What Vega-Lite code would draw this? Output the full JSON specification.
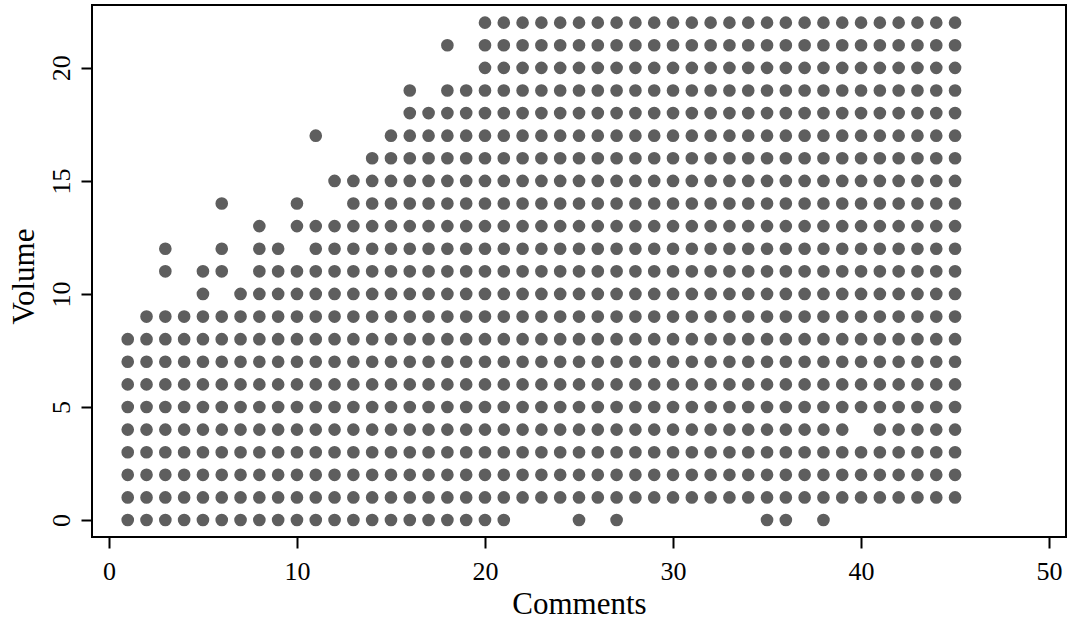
{
"$schema": "https://vega.github.io/schema/vega-lite/v6.json",
"width": 974, "height": 532,
"autosize": {"type": "none"},
"padding": {"left": 92, "top": 5, "right": 4, "bottom": 86},
"background": "white",
"config": {"view": {"stroke": "black", "strokeWidth": 2}, "font": "Liberation Serif"},
"data": {"values": [
{"x":1,"y":0},{"x":2,"y":0},{"x":3,"y":0},{"x":4,"y":0},{"x":5,"y":0},{"x":6,"y":0},{"x":7,"y":0},{"x":8,"y":0},{"x":9,"y":0},{"x":10,"y":0},{"x":11,"y":0},{"x":12,"y":0},{"x":13,"y":0},{"x":14,"y":0},{"x":15,"y":0},{"x":16,"y":0},{"x":17,"y":0},{"x":18,"y":0},{"x":19,"y":0},{"x":20,"y":0},{"x":21,"y":0},{"x":25,"y":0},{"x":27,"y":0},{"x":35,"y":0},{"x":36,"y":0},{"x":38,"y":0},
{"x":1,"y":1},{"x":2,"y":1},{"x":3,"y":1},{"x":4,"y":1},{"x":5,"y":1},{"x":6,"y":1},{"x":7,"y":1},{"x":8,"y":1},{"x":9,"y":1},{"x":10,"y":1},{"x":11,"y":1},{"x":12,"y":1},{"x":13,"y":1},{"x":14,"y":1},{"x":15,"y":1},{"x":16,"y":1},{"x":17,"y":1},{"x":18,"y":1},{"x":19,"y":1},{"x":20,"y":1},{"x":21,"y":1},{"x":22,"y":1},{"x":23,"y":1},{"x":24,"y":1},{"x":25,"y":1},{"x":26,"y":1},{"x":27,"y":1},{"x":28,"y":1},{"x":29,"y":1},{"x":30,"y":1},{"x":31,"y":1},{"x":32,"y":1},{"x":33,"y":1},{"x":34,"y":1},{"x":35,"y":1},{"x":36,"y":1},{"x":37,"y":1},{"x":38,"y":1},{"x":39,"y":1},{"x":40,"y":1},{"x":41,"y":1},{"x":42,"y":1},{"x":43,"y":1},{"x":44,"y":1},{"x":45,"y":1},
{"x":1,"y":2},{"x":2,"y":2},{"x":3,"y":2},{"x":4,"y":2},{"x":5,"y":2},{"x":6,"y":2},{"x":7,"y":2},{"x":8,"y":2},{"x":9,"y":2},{"x":10,"y":2},{"x":11,"y":2},{"x":12,"y":2},{"x":13,"y":2},{"x":14,"y":2},{"x":15,"y":2},{"x":16,"y":2},{"x":17,"y":2},{"x":18,"y":2},{"x":19,"y":2},{"x":20,"y":2},{"x":21,"y":2},{"x":22,"y":2},{"x":23,"y":2},{"x":24,"y":2},{"x":25,"y":2},{"x":26,"y":2},{"x":27,"y":2},{"x":28,"y":2},{"x":29,"y":2},{"x":30,"y":2},{"x":31,"y":2},{"x":32,"y":2},{"x":33,"y":2},{"x":34,"y":2},{"x":35,"y":2},{"x":36,"y":2},{"x":37,"y":2},{"x":38,"y":2},{"x":39,"y":2},{"x":40,"y":2},{"x":41,"y":2},{"x":42,"y":2},{"x":43,"y":2},{"x":44,"y":2},{"x":45,"y":2},
{"x":1,"y":3},{"x":2,"y":3},{"x":3,"y":3},{"x":4,"y":3},{"x":5,"y":3},{"x":6,"y":3},{"x":7,"y":3},{"x":8,"y":3},{"x":9,"y":3},{"x":10,"y":3},{"x":11,"y":3},{"x":12,"y":3},{"x":13,"y":3},{"x":14,"y":3},{"x":15,"y":3},{"x":16,"y":3},{"x":17,"y":3},{"x":18,"y":3},{"x":19,"y":3},{"x":20,"y":3},{"x":21,"y":3},{"x":22,"y":3},{"x":23,"y":3},{"x":24,"y":3},{"x":25,"y":3},{"x":26,"y":3},{"x":27,"y":3},{"x":28,"y":3},{"x":29,"y":3},{"x":30,"y":3},{"x":31,"y":3},{"x":32,"y":3},{"x":33,"y":3},{"x":34,"y":3},{"x":35,"y":3},{"x":36,"y":3},{"x":37,"y":3},{"x":38,"y":3},{"x":39,"y":3},{"x":40,"y":3},{"x":41,"y":3},{"x":42,"y":3},{"x":43,"y":3},{"x":44,"y":3},{"x":45,"y":3},
{"x":1,"y":4},{"x":2,"y":4},{"x":3,"y":4},{"x":4,"y":4},{"x":5,"y":4},{"x":6,"y":4},{"x":7,"y":4},{"x":8,"y":4},{"x":9,"y":4},{"x":10,"y":4},{"x":11,"y":4},{"x":12,"y":4},{"x":13,"y":4},{"x":14,"y":4},{"x":15,"y":4},{"x":16,"y":4},{"x":17,"y":4},{"x":18,"y":4},{"x":19,"y":4},{"x":20,"y":4},{"x":21,"y":4},{"x":22,"y":4},{"x":23,"y":4},{"x":24,"y":4},{"x":25,"y":4},{"x":26,"y":4},{"x":27,"y":4},{"x":28,"y":4},{"x":29,"y":4},{"x":30,"y":4},{"x":31,"y":4},{"x":32,"y":4},{"x":33,"y":4},{"x":34,"y":4},{"x":35,"y":4},{"x":36,"y":4},{"x":37,"y":4},{"x":38,"y":4},{"x":39,"y":4},{"x":41,"y":4},{"x":42,"y":4},{"x":43,"y":4},{"x":44,"y":4},{"x":45,"y":4},
{"x":1,"y":5},{"x":2,"y":5},{"x":3,"y":5},{"x":4,"y":5},{"x":5,"y":5},{"x":6,"y":5},{"x":7,"y":5},{"x":8,"y":5},{"x":9,"y":5},{"x":10,"y":5},{"x":11,"y":5},{"x":12,"y":5},{"x":13,"y":5},{"x":14,"y":5},{"x":15,"y":5},{"x":16,"y":5},{"x":17,"y":5},{"x":18,"y":5},{"x":19,"y":5},{"x":20,"y":5},{"x":21,"y":5},{"x":22,"y":5},{"x":23,"y":5},{"x":24,"y":5},{"x":25,"y":5},{"x":26,"y":5},{"x":27,"y":5},{"x":28,"y":5},{"x":29,"y":5},{"x":30,"y":5},{"x":31,"y":5},{"x":32,"y":5},{"x":33,"y":5},{"x":34,"y":5},{"x":35,"y":5},{"x":36,"y":5},{"x":37,"y":5},{"x":38,"y":5},{"x":39,"y":5},{"x":40,"y":5},{"x":41,"y":5},{"x":42,"y":5},{"x":43,"y":5},{"x":44,"y":5},{"x":45,"y":5},
{"x":1,"y":6},{"x":2,"y":6},{"x":3,"y":6},{"x":4,"y":6},{"x":5,"y":6},{"x":6,"y":6},{"x":7,"y":6},{"x":8,"y":6},{"x":9,"y":6},{"x":10,"y":6},{"x":11,"y":6},{"x":12,"y":6},{"x":13,"y":6},{"x":14,"y":6},{"x":15,"y":6},{"x":16,"y":6},{"x":17,"y":6},{"x":18,"y":6},{"x":19,"y":6},{"x":20,"y":6},{"x":21,"y":6},{"x":22,"y":6},{"x":23,"y":6},{"x":24,"y":6},{"x":25,"y":6},{"x":26,"y":6},{"x":27,"y":6},{"x":28,"y":6},{"x":29,"y":6},{"x":30,"y":6},{"x":31,"y":6},{"x":32,"y":6},{"x":33,"y":6},{"x":34,"y":6},{"x":35,"y":6},{"x":36,"y":6},{"x":37,"y":6},{"x":38,"y":6},{"x":39,"y":6},{"x":40,"y":6},{"x":41,"y":6},{"x":42,"y":6},{"x":43,"y":6},{"x":44,"y":6},{"x":45,"y":6},
{"x":1,"y":7},{"x":2,"y":7},{"x":3,"y":7},{"x":4,"y":7},{"x":5,"y":7},{"x":6,"y":7},{"x":7,"y":7},{"x":8,"y":7},{"x":9,"y":7},{"x":10,"y":7},{"x":11,"y":7},{"x":12,"y":7},{"x":13,"y":7},{"x":14,"y":7},{"x":15,"y":7},{"x":16,"y":7},{"x":17,"y":7},{"x":18,"y":7},{"x":19,"y":7},{"x":20,"y":7},{"x":21,"y":7},{"x":22,"y":7},{"x":23,"y":7},{"x":24,"y":7},{"x":25,"y":7},{"x":26,"y":7},{"x":27,"y":7},{"x":28,"y":7},{"x":29,"y":7},{"x":30,"y":7},{"x":31,"y":7},{"x":32,"y":7},{"x":33,"y":7},{"x":34,"y":7},{"x":35,"y":7},{"x":36,"y":7},{"x":37,"y":7},{"x":38,"y":7},{"x":39,"y":7},{"x":40,"y":7},{"x":41,"y":7},{"x":42,"y":7},{"x":43,"y":7},{"x":44,"y":7},{"x":45,"y":7},
{"x":1,"y":8},{"x":2,"y":8},{"x":3,"y":8},{"x":4,"y":8},{"x":5,"y":8},{"x":6,"y":8},{"x":7,"y":8},{"x":8,"y":8},{"x":9,"y":8},{"x":10,"y":8},{"x":11,"y":8},{"x":12,"y":8},{"x":13,"y":8},{"x":14,"y":8},{"x":15,"y":8},{"x":16,"y":8},{"x":17,"y":8},{"x":18,"y":8},{"x":19,"y":8},{"x":20,"y":8},{"x":21,"y":8},{"x":22,"y":8},{"x":23,"y":8},{"x":24,"y":8},{"x":25,"y":8},{"x":26,"y":8},{"x":27,"y":8},{"x":28,"y":8},{"x":29,"y":8},{"x":30,"y":8},{"x":31,"y":8},{"x":32,"y":8},{"x":33,"y":8},{"x":34,"y":8},{"x":35,"y":8},{"x":36,"y":8},{"x":37,"y":8},{"x":38,"y":8},{"x":39,"y":8},{"x":40,"y":8},{"x":41,"y":8},{"x":42,"y":8},{"x":43,"y":8},{"x":44,"y":8},{"x":45,"y":8},
{"x":2,"y":9},{"x":3,"y":9},{"x":4,"y":9},{"x":5,"y":9},{"x":6,"y":9},{"x":7,"y":9},{"x":8,"y":9},{"x":9,"y":9},{"x":10,"y":9},{"x":11,"y":9},{"x":12,"y":9},{"x":13,"y":9},{"x":14,"y":9},{"x":15,"y":9},{"x":16,"y":9},{"x":17,"y":9},{"x":18,"y":9},{"x":19,"y":9},{"x":20,"y":9},{"x":21,"y":9},{"x":22,"y":9},{"x":23,"y":9},{"x":24,"y":9},{"x":25,"y":9},{"x":26,"y":9},{"x":27,"y":9},{"x":28,"y":9},{"x":29,"y":9},{"x":30,"y":9},{"x":31,"y":9},{"x":32,"y":9},{"x":33,"y":9},{"x":34,"y":9},{"x":35,"y":9},{"x":36,"y":9},{"x":37,"y":9},{"x":38,"y":9},{"x":39,"y":9},{"x":40,"y":9},{"x":41,"y":9},{"x":42,"y":9},{"x":43,"y":9},{"x":44,"y":9},{"x":45,"y":9},
{"x":5,"y":10},{"x":7,"y":10},{"x":8,"y":10},{"x":9,"y":10},{"x":10,"y":10},{"x":11,"y":10},{"x":12,"y":10},{"x":13,"y":10},{"x":14,"y":10},{"x":15,"y":10},{"x":16,"y":10},{"x":17,"y":10},{"x":18,"y":10},{"x":19,"y":10},{"x":20,"y":10},{"x":21,"y":10},{"x":22,"y":10},{"x":23,"y":10},{"x":24,"y":10},{"x":25,"y":10},{"x":26,"y":10},{"x":27,"y":10},{"x":28,"y":10},{"x":29,"y":10},{"x":30,"y":10},{"x":31,"y":10},{"x":32,"y":10},{"x":33,"y":10},{"x":34,"y":10},{"x":35,"y":10},{"x":36,"y":10},{"x":37,"y":10},{"x":38,"y":10},{"x":39,"y":10},{"x":40,"y":10},{"x":41,"y":10},{"x":42,"y":10},{"x":43,"y":10},{"x":44,"y":10},{"x":45,"y":10},
{"x":3,"y":11},{"x":5,"y":11},{"x":6,"y":11},{"x":8,"y":11},{"x":9,"y":11},{"x":10,"y":11},{"x":11,"y":11},{"x":12,"y":11},{"x":13,"y":11},{"x":14,"y":11},{"x":15,"y":11},{"x":16,"y":11},{"x":17,"y":11},{"x":18,"y":11},{"x":19,"y":11},{"x":20,"y":11},{"x":21,"y":11},{"x":22,"y":11},{"x":23,"y":11},{"x":24,"y":11},{"x":25,"y":11},{"x":26,"y":11},{"x":27,"y":11},{"x":28,"y":11},{"x":29,"y":11},{"x":30,"y":11},{"x":31,"y":11},{"x":32,"y":11},{"x":33,"y":11},{"x":34,"y":11},{"x":35,"y":11},{"x":36,"y":11},{"x":37,"y":11},{"x":38,"y":11},{"x":39,"y":11},{"x":40,"y":11},{"x":41,"y":11},{"x":42,"y":11},{"x":43,"y":11},{"x":44,"y":11},{"x":45,"y":11},
{"x":3,"y":12},{"x":6,"y":12},{"x":8,"y":12},{"x":9,"y":12},{"x":11,"y":12},{"x":12,"y":12},{"x":13,"y":12},{"x":14,"y":12},{"x":15,"y":12},{"x":16,"y":12},{"x":17,"y":12},{"x":18,"y":12},{"x":19,"y":12},{"x":20,"y":12},{"x":21,"y":12},{"x":22,"y":12},{"x":23,"y":12},{"x":24,"y":12},{"x":25,"y":12},{"x":26,"y":12},{"x":27,"y":12},{"x":28,"y":12},{"x":29,"y":12},{"x":30,"y":12},{"x":31,"y":12},{"x":32,"y":12},{"x":33,"y":12},{"x":34,"y":12},{"x":35,"y":12},{"x":36,"y":12},{"x":37,"y":12},{"x":38,"y":12},{"x":39,"y":12},{"x":40,"y":12},{"x":41,"y":12},{"x":42,"y":12},{"x":43,"y":12},{"x":44,"y":12},{"x":45,"y":12},
{"x":8,"y":13},{"x":10,"y":13},{"x":11,"y":13},{"x":12,"y":13},{"x":13,"y":13},{"x":14,"y":13},{"x":15,"y":13},{"x":16,"y":13},{"x":17,"y":13},{"x":18,"y":13},{"x":19,"y":13},{"x":20,"y":13},{"x":21,"y":13},{"x":22,"y":13},{"x":23,"y":13},{"x":24,"y":13},{"x":25,"y":13},{"x":26,"y":13},{"x":27,"y":13},{"x":28,"y":13},{"x":29,"y":13},{"x":30,"y":13},{"x":31,"y":13},{"x":32,"y":13},{"x":33,"y":13},{"x":34,"y":13},{"x":35,"y":13},{"x":36,"y":13},{"x":37,"y":13},{"x":38,"y":13},{"x":39,"y":13},{"x":40,"y":13},{"x":41,"y":13},{"x":42,"y":13},{"x":43,"y":13},{"x":44,"y":13},{"x":45,"y":13},
{"x":6,"y":14},{"x":10,"y":14},{"x":13,"y":14},{"x":14,"y":14},{"x":15,"y":14},{"x":16,"y":14},{"x":17,"y":14},{"x":18,"y":14},{"x":19,"y":14},{"x":20,"y":14},{"x":21,"y":14},{"x":22,"y":14},{"x":23,"y":14},{"x":24,"y":14},{"x":25,"y":14},{"x":26,"y":14},{"x":27,"y":14},{"x":28,"y":14},{"x":29,"y":14},{"x":30,"y":14},{"x":31,"y":14},{"x":32,"y":14},{"x":33,"y":14},{"x":34,"y":14},{"x":35,"y":14},{"x":36,"y":14},{"x":37,"y":14},{"x":38,"y":14},{"x":39,"y":14},{"x":40,"y":14},{"x":41,"y":14},{"x":42,"y":14},{"x":43,"y":14},{"x":44,"y":14},{"x":45,"y":14},
{"x":12,"y":15},{"x":13,"y":15},{"x":14,"y":15},{"x":15,"y":15},{"x":16,"y":15},{"x":17,"y":15},{"x":18,"y":15},{"x":19,"y":15},{"x":20,"y":15},{"x":21,"y":15},{"x":22,"y":15},{"x":23,"y":15},{"x":24,"y":15},{"x":25,"y":15},{"x":26,"y":15},{"x":27,"y":15},{"x":28,"y":15},{"x":29,"y":15},{"x":30,"y":15},{"x":31,"y":15},{"x":32,"y":15},{"x":33,"y":15},{"x":34,"y":15},{"x":35,"y":15},{"x":36,"y":15},{"x":37,"y":15},{"x":38,"y":15},{"x":39,"y":15},{"x":40,"y":15},{"x":41,"y":15},{"x":42,"y":15},{"x":43,"y":15},{"x":44,"y":15},{"x":45,"y":15},
{"x":14,"y":16},{"x":15,"y":16},{"x":16,"y":16},{"x":17,"y":16},{"x":18,"y":16},{"x":19,"y":16},{"x":20,"y":16},{"x":21,"y":16},{"x":22,"y":16},{"x":23,"y":16},{"x":24,"y":16},{"x":25,"y":16},{"x":26,"y":16},{"x":27,"y":16},{"x":28,"y":16},{"x":29,"y":16},{"x":30,"y":16},{"x":31,"y":16},{"x":32,"y":16},{"x":33,"y":16},{"x":34,"y":16},{"x":35,"y":16},{"x":36,"y":16},{"x":37,"y":16},{"x":38,"y":16},{"x":39,"y":16},{"x":40,"y":16},{"x":41,"y":16},{"x":42,"y":16},{"x":43,"y":16},{"x":44,"y":16},{"x":45,"y":16},
{"x":11,"y":17},{"x":15,"y":17},{"x":16,"y":17},{"x":17,"y":17},{"x":18,"y":17},{"x":19,"y":17},{"x":20,"y":17},{"x":21,"y":17},{"x":22,"y":17},{"x":23,"y":17},{"x":24,"y":17},{"x":25,"y":17},{"x":26,"y":17},{"x":27,"y":17},{"x":28,"y":17},{"x":29,"y":17},{"x":30,"y":17},{"x":31,"y":17},{"x":32,"y":17},{"x":33,"y":17},{"x":34,"y":17},{"x":35,"y":17},{"x":36,"y":17},{"x":37,"y":17},{"x":38,"y":17},{"x":39,"y":17},{"x":40,"y":17},{"x":41,"y":17},{"x":42,"y":17},{"x":43,"y":17},{"x":44,"y":17},{"x":45,"y":17},
{"x":16,"y":18},{"x":17,"y":18},{"x":18,"y":18},{"x":19,"y":18},{"x":20,"y":18},{"x":21,"y":18},{"x":22,"y":18},{"x":23,"y":18},{"x":24,"y":18},{"x":25,"y":18},{"x":26,"y":18},{"x":27,"y":18},{"x":28,"y":18},{"x":29,"y":18},{"x":30,"y":18},{"x":31,"y":18},{"x":32,"y":18},{"x":33,"y":18},{"x":34,"y":18},{"x":35,"y":18},{"x":36,"y":18},{"x":37,"y":18},{"x":38,"y":18},{"x":39,"y":18},{"x":40,"y":18},{"x":41,"y":18},{"x":42,"y":18},{"x":43,"y":18},{"x":44,"y":18},{"x":45,"y":18},
{"x":16,"y":19},{"x":18,"y":19},{"x":19,"y":19},{"x":20,"y":19},{"x":21,"y":19},{"x":22,"y":19},{"x":23,"y":19},{"x":24,"y":19},{"x":25,"y":19},{"x":26,"y":19},{"x":27,"y":19},{"x":28,"y":19},{"x":29,"y":19},{"x":30,"y":19},{"x":31,"y":19},{"x":32,"y":19},{"x":33,"y":19},{"x":34,"y":19},{"x":35,"y":19},{"x":36,"y":19},{"x":37,"y":19},{"x":38,"y":19},{"x":39,"y":19},{"x":40,"y":19},{"x":41,"y":19},{"x":42,"y":19},{"x":43,"y":19},{"x":44,"y":19},{"x":45,"y":19},
{"x":20,"y":20},{"x":21,"y":20},{"x":22,"y":20},{"x":23,"y":20},{"x":24,"y":20},{"x":25,"y":20},{"x":26,"y":20},{"x":27,"y":20},{"x":28,"y":20},{"x":29,"y":20},{"x":30,"y":20},{"x":31,"y":20},{"x":32,"y":20},{"x":33,"y":20},{"x":34,"y":20},{"x":35,"y":20},{"x":36,"y":20},{"x":37,"y":20},{"x":38,"y":20},{"x":39,"y":20},{"x":40,"y":20},{"x":41,"y":20},{"x":42,"y":20},{"x":43,"y":20},{"x":44,"y":20},{"x":45,"y":20},
{"x":18,"y":21},{"x":20,"y":21},{"x":21,"y":21},{"x":22,"y":21},{"x":23,"y":21},{"x":24,"y":21},{"x":25,"y":21},{"x":26,"y":21},{"x":27,"y":21},{"x":28,"y":21},{"x":29,"y":21},{"x":30,"y":21},{"x":31,"y":21},{"x":32,"y":21},{"x":33,"y":21},{"x":34,"y":21},{"x":35,"y":21},{"x":36,"y":21},{"x":37,"y":21},{"x":38,"y":21},{"x":39,"y":21},{"x":40,"y":21},{"x":41,"y":21},{"x":42,"y":21},{"x":43,"y":21},{"x":44,"y":21},{"x":45,"y":21},
{"x":20,"y":22},{"x":21,"y":22},{"x":22,"y":22},{"x":23,"y":22},{"x":24,"y":22},{"x":25,"y":22},{"x":26,"y":22},{"x":27,"y":22},{"x":28,"y":22},{"x":29,"y":22},{"x":30,"y":22},{"x":31,"y":22},{"x":32,"y":22},{"x":33,"y":22},{"x":34,"y":22},{"x":35,"y":22},{"x":36,"y":22},{"x":37,"y":22},{"x":38,"y":22},{"x":39,"y":22},{"x":40,"y":22},{"x":41,"y":22},{"x":42,"y":22},{"x":43,"y":22},{"x":44,"y":22},{"x":45,"y":22}
]},
"mark": {"type": "circle", "size": 160, "color": "#5e5e5e", "opacity": 1},
"encoding": {
"x": {"field": "x", "type": "quantitative",
 "scale": {"domain": [-0.9, 50.9], "nice": false, "zero": false},
 "axis": {"title": "Comments", "values": [0, 10, 20, 30, 40, 50], "grid": false, "domain": false,
  "tickColor": "black", "tickSize": 11, "tickWidth": 2,
  "labelFont": "Liberation Serif", "labelFontSize": 26, "labelColor": "black", "labelPadding": 10,
  "titleFont": "Liberation Serif", "titleFontSize": 31, "titleFontWeight": "normal", "titleColor": "black",
  "titleBaseline": "alphabetic", "titleY": 76}},
"y": {"field": "y", "type": "quantitative",
 "scale": {"domain": [-0.75, 22.78], "nice": false, "zero": false},
 "axis": {"title": "Volume", "values": [0, 5, 10, 15, 20], "grid": false, "domain": false,
  "tickColor": "black", "tickSize": 11, "tickWidth": 2,
  "labelFont": "Liberation Serif", "labelFontSize": 26, "labelColor": "black", "labelPadding": 12,
  "labelAngle": -90, "labelAlign": "center", "labelBaseline": "alphabetic",
  "titleFont": "Liberation Serif", "titleFontSize": 31, "titleFontWeight": "normal", "titleColor": "black",
  "titleAngle": -90, "titleBaseline": "alphabetic", "titleX": -59, "titleY": 271}}
}
}
